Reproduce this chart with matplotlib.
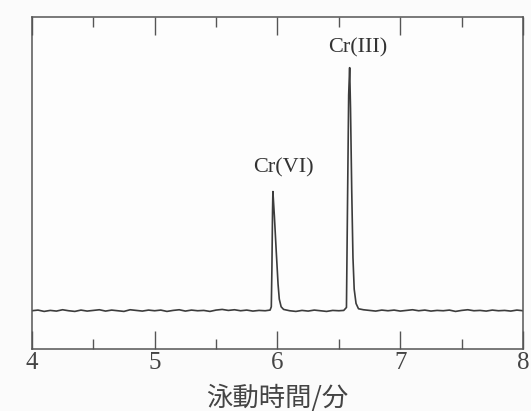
import matplotlib
matplotlib.use("Agg")
import matplotlib.pyplot as plt
from matplotlib.ticker import MultipleLocator

# 泳動時間 (分) と検出器応答 (任意単位), 図から読み取り
t_min = [4.00, 4.05, 4.10, 4.15, 4.20, 4.25, 4.30, 4.35, 4.40, 4.45,
         4.50, 4.55, 4.60, 4.65, 4.70, 4.75, 4.80, 4.85, 4.90, 4.95,
         5.00, 5.05, 5.10, 5.15, 5.20, 5.25, 5.30, 5.35, 5.40, 5.45,
         5.50, 5.55, 5.60, 5.65, 5.70, 5.75, 5.80, 5.85, 5.90, 5.94,
         5.950, 5.955, 5.960, 5.963, 5.975, 5.990, 6.005, 6.015, 6.030, 6.050,
         6.10, 6.15, 6.20, 6.25, 6.30, 6.35, 6.40, 6.45, 6.50, 6.54,
         6.562, 6.570, 6.580, 6.588, 6.595, 6.605, 6.615, 6.625, 6.640, 6.660,
         6.70, 6.75, 6.80, 6.85, 6.90, 6.95, 7.00, 7.05, 7.10, 7.15,
         7.20, 7.25, 7.30, 7.35, 7.40, 7.45, 7.50, 7.55, 7.60, 7.65,
         7.70, 7.75, 7.80, 7.85, 7.90, 7.95, 8.00]
signal = [0.000, 0.002, -0.002, 0.001, -0.001, 0.003, 0.000, -0.002, 0.002, -0.001,
          0.001, 0.003, -0.001, 0.002, 0.000, -0.002, 0.003, 0.001, -0.001, 0.002,
          0.000, 0.002, -0.002, 0.001, 0.003, -0.001, 0.002, 0.000, 0.001, -0.002,
          0.002, 0.004, 0.001, 0.003, 0.000, 0.002, -0.001, 0.001, 0.000, 0.002,
          0.012, 0.130, 0.300, 0.359, 0.285, 0.180, 0.080, 0.035, 0.012, 0.004,
          0.000, -0.002, 0.001, -0.001, 0.002, 0.000, -0.002, 0.001, 0.000, 0.001,
          0.010, 0.300, 0.650, 0.732, 0.610, 0.360, 0.160, 0.065, 0.022, 0.006,
          0.003, 0.001, -0.001, 0.002, 0.000, 0.002, -0.001, 0.001, 0.003, 0.000,
          0.002, -0.001, 0.001, 0.000, 0.002, -0.002, 0.001, 0.003, 0.000, 0.001,
          -0.001, 0.002, 0.000, 0.001, -0.001, 0.002, 0.000]

peak_labels = ["Cr(VI)", "Cr(III)"]
peak_pos = [(6.05, 0.430), (6.65, 0.792)]

x_ticks = [4, 5, 6, 7, 8]
x_label = "泳動時間/分"

fig = plt.figure(figsize=(5.31, 4.11), dpi=100)
fig.patch.set_facecolor("#fbfbfb")
ax = fig.add_axes([0.060, 0.151, 0.925, 0.808])
ax.set_facecolor("#fdfdfd")

ax.plot(t_min, signal, color="#3c3c3c", lw=1.2)

for lab, (x, y) in zip(peak_labels, peak_pos):
    ax.text(x, y, lab, family="Liberation Serif", fontsize=16,
            color="#333333", ha="center", va="center")

ax.set_xlim(4, 8)
ax.set_ylim(-0.115, 0.885)
ax.set_xticks(x_ticks)
ax.set_xticklabels([str(v) for v in x_ticks], family="Liberation Serif",
                   fontsize=18, color="#444444")
ax.xaxis.set_minor_locator(MultipleLocator(0.5))
ax.tick_params(axis="x", which="both", direction="in", top=True, bottom=True,
               color="#555555", width=1.0, pad=2)
ax.tick_params(axis="x", which="major", length=13)
ax.tick_params(axis="x", which="minor", length=7)
ax.set_yticks([])
for s in ax.spines.values():
    s.set_color("#555555")
    s.set_linewidth(1.1)

fig.text(277 / 531, (411 - 398) / 411, x_label, family="Noto Sans CJK JP",
         fontsize=19, color="#444444", ha="center", va="center")

fig.savefig("out.png", dpi=100, facecolor=fig.get_facecolor())
